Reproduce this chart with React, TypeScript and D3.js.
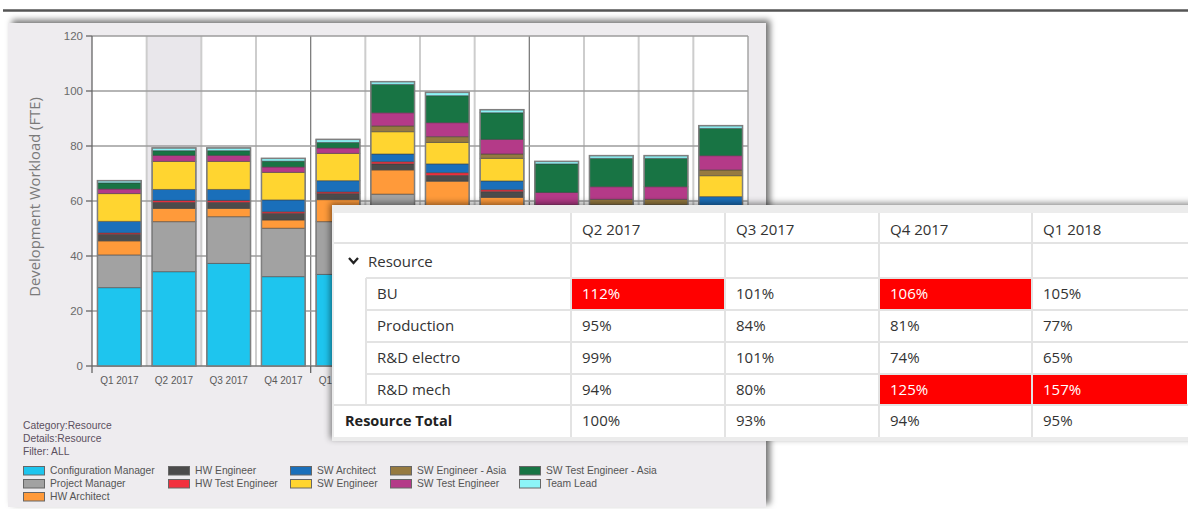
import React from "react";
import * as d3 from "d3";

const quarters = ["Q1 2017","Q2 2017","Q3 2017","Q4 2017","Q1 2018","Q2 2018","Q3 2018","Q4 2018","Q1 2019","Q2 2019","Q3 2019","Q4 2019"];

const roles = ["Configuration Manager","Project Manager","HW Architect","HW Engineer","HW Test Engineer","SW Architect","SW Engineer","SW Engineer - Asia","SW Test Engineer","SW Test Engineer - Asia","Team Lead"];

const roleColors = ["#1ec5ee","#a2a2a2","#ff9a3a","#4b4b4b","#f2303e","#1a6fba","#ffd530","#967a40","#b43a88","#187444","#8cf4f7"];

const configurationManager = [28.5, 34.3, 37.3, 32.5, 33.3, 38, 36, 34, 28, 28, 28, 30];
const projectManager = [11.9, 18.2, 17.0, 17.6, 19.2, 24.5, 22, 20, 18, 17, 17, 17];
const hwArchitect = [5.1, 4.8, 3.0, 3.0, 8.0, 8.8, 9.2, 7.3, 6, 6, 6, 6];
const hwEngineer = [2.4, 2.2, 2.2, 2.4, 2.2, 2.2, 2.1, 2.1, 1.5, 1.5, 1.5, 1.5];
const hwTestEngineer = [0.5, 0.7, 0.7, 0.6, 0.6, 0.8, 1.0, 0.7, 0.5, 0.5, 0.5, 0.5];
const swArchitect = [4.2, 4.0, 4.0, 4.3, 4.1, 2.8, 3.2, 3.2, 2, 2, 2, 6.6];
const swEngineer = [10.1, 10.2, 10.2, 10.0, 9.9, 8.1, 7.8, 8.2, 2.5, 3.6, 3.6, 7.6];
const swEngineerAsia = [0, 0, 0, 0, 0, 2.1, 2.1, 1.6, 0, 2, 2, 2.1];
const swTestEngineer = [1.7, 2.2, 2.2, 2.0, 2.0, 4.8, 5.1, 5.3, 4.6, 4.6, 4.6, 5.2];
const swTestEngineerAsia = [2.2, 1.7, 1.7, 2.1, 2.0, 10.3, 9.8, 9.7, 10.4, 10.3, 10.3, 9.9];
const teamLead = [0.8, 1.0, 1.0, 1.0, 1.1, 1.0, 1.2, 1.1, 0.9, 1.0, 1.0, 1.0];

const seriesValues = [configurationManager, projectManager, hwArchitect, hwEngineer, hwTestEngineer, swArchitect, swEngineer, swEngineerAsia, swTestEngineer, swTestEngineerAsia, teamLead];

const yTicks = [0, 20, 40, 60, 80, 100, 120];
const highlightedQuarter = "Q2 2017";
const yearStartQuarters = ["Q1 2018", "Q1 2019"];

const tableColumns = ["Q2 2017", "Q3 2017", "Q4 2017", "Q1 2018"];
const tableGroup = "Resource";
const tableRowLabels = ["BU", "Production", "R&D electro", "R&D mech"];
const tableBU = [112, 101, 106, 105];
const tableProduction = [95, 84, 81, 77];
const tableRDElectro = [99, 101, 74, 65];
const tableRDMech = [94, 80, 125, 157];
const tableTotal = [100, 93, 94, 95];
const tableRowValues = [tableBU, tableProduction, tableRDElectro, tableRDMech];
const redThreshold = 105;

const infoLines = ["Category:Resource", "Details:Resource", "Filter:  ALL"];

export default function App() {
  const W = 1188, H = 509;
  const plotL = 92, plotR = 748, plotT = 36, plotB = 366;
  const tableLeft = 332;

  const x = d3.scaleBand<string>().domain(quarters).range([plotL, plotR]).paddingInner(0.2).paddingOuter(0.1);
  const y = d3.scaleLinear().domain([0, 120]).range([plotB, plotT]);
  const color = d3.scaleOrdinal<string, string>().domain(roles).range(roleColors);

  const rows = quarters.map((q, i) => {
    const o: any = { quarter: q };
    roles.forEach((r, j) => (o[r] = seriesValues[j][i]));
    return o;
  });
  const stack = d3.stack<any>().keys(roles);
  const layers = stack(rows);

  const step = x.step();
  const bandStart = (q: string) => (x(q) as number) - x.paddingInner() * step / 2;
  const boundaries = quarters.map((q) => bandStart(q));

  // table geometry
  const tX = 334, tY = 213;
  const colX = [571, 725, 879, 1032, 1188];
  const rowY = [213, 243, 278, 310, 342, 374, 405, 437];
  const indentX = 366;
  const tf = "'Open Sans', 'Noto Sans', sans-serif";
  const af = "'Liberation Sans', Arial, sans-serif";

  const legendCols = [23, 168, 290, 390, 519];
  const legendRows = [470.5, 483.5, 496.5];

  // x labels that are not entirely hidden under the table overlay
  const visibleLabels = quarters.filter((q) => (x(q) as number) + x.bandwidth() / 2 - 19 < tableLeft);

  return (
    <svg width={W} height={H} style={{ position: "absolute", left: 0, top: 0 }} xmlns="http://www.w3.org/2000/svg">
      <defs>
        <filter id="pshadow" x="-5%" y="-5%" width="110%" height="110%">
          <feDropShadow dx="4" dy="-3" stdDeviation="3" floodColor="#000" floodOpacity="0.55" />
        </filter>
        <filter id="tshadow" x="-5%" y="-10%" width="110%" height="120%">
          <feDropShadow dx="-2" dy="-2" stdDeviation="3" floodColor="#000" floodOpacity="0.45" />
        </filter>
      </defs>
      <rect x={0} y={0} width={W} height={H} fill="#fff" />
      <line x1={3} x2={W} y1={10.5} y2={10.5} stroke="#555" strokeWidth={2.5} />

      {/* chart panel */}
      <rect x={8} y={23} width={758} height={484} fill="#eeecef" filter="url(#pshadow)" />

      {/* plot area */}
      <rect x={plotL} y={plotT} width={plotR - plotL} height={plotB - plotT} fill="#fff" />
      <rect x={bandStart(highlightedQuarter)} y={plotT} width={step} height={plotB - plotT} fill="#e9e7eb" />

      {boundaries.slice(1).map((bx, i) => {
        const dark = yearStartQuarters.includes(quarters[i + 1]);
        return (
          <line key={"vg" + i} x1={bx} x2={bx} y1={plotT} y2={plotB} stroke={dark ? "#7d7d7d" : "#cdcdcd"} strokeWidth={dark ? 1.3 : 2} />
        );
      })}
      <line x1={plotR} x2={plotR} y1={plotT} y2={plotB} stroke="#999" strokeWidth={1.3} />
      {yTicks.map((t) => (
        <line key={"hg" + t} x1={plotL} x2={plotR} y1={y(t)} y2={y(t)} stroke={t === 0 ? "#777" : "#9c9c9c"} strokeWidth={1.3} />
      ))}

      {/* bars */}
      {layers.map((layer, li) => (
        <g key={"l" + li}>
          {layer.map((d, qi) => {
            const h = y(d[0]) - y(d[1]);
            if (h <= 0) return null;
            return (
              <rect key={qi} x={x(quarters[qi]) as number} y={y(d[1])} width={x.bandwidth()} height={h}
                fill={color(roles[li])} stroke="rgba(60,60,60,0.5)" strokeWidth={1} />
            );
          })}
        </g>
      ))}
      {quarters.map((q, qi) => {
        const top = layers[layers.length - 1][qi][1];
        return (
          <rect key={"ob" + q} x={x(q) as number} y={y(top)} width={x.bandwidth()} height={y(0) - y(top)}
            fill="none" stroke="#7f7f7f" strokeWidth={1.5} />
        );
      })}

      {/* axes */}
      <line x1={plotL} x2={plotL} y1={plotT} y2={plotB + 7} stroke="#666" strokeWidth={1.3} />
      {yTicks.map((t) => (
        <g key={"yt" + t}>
          <line x1={plotL - 6} x2={plotL} y1={y(t)} y2={y(t)} stroke="#666" strokeWidth={1.3} />
          <text x={plotL - 9} y={y(t)} dy="0.35em" textAnchor="end" fontFamily={af} fontSize={11.5} fill="#6a6a6a">{t}</text>
        </g>
      ))}
      {quarters.map((q) => yearStartQuarters.includes(q) ? (
        <line key={"xt" + q} x1={bandStart(q)} x2={bandStart(q)} y1={plotB} y2={plotB + 7} stroke="#666" strokeWidth={1.3} />
      ) : null)}
      {visibleLabels.map((q) => (
        <text key={"xl" + q} x={(x(q) as number) + x.bandwidth() / 2} y={plotB + 14} dy="0.35em" textAnchor="middle" fontFamily={af} fontSize={10} fill="#5a5a5a">{q}</text>
      ))}
      <text transform={`translate(35,197) rotate(-90)`} textAnchor="middle" dy="0.35em" fontFamily={tf} fontSize={14.8} fill="#7a7a7a">Development Workload (FTE)</text>

      {/* info and legend */}
      {infoLines.map((s, i) => (
        <text key={"inf" + i} x={23} y={425 + i * 13.3} dy="0.35em" fontFamily={af} fontSize={10.3} fill="#5b4f5e">{s}</text>
      ))}
      {roles.map((r, i) => {
        const c = i < 3 ? 0 : 1 + Math.floor((i - 3) / 2);
        const rw = i < 3 ? i : (i - 3) % 2;
        const lx = legendCols[c], ly = legendRows[rw];
        return (
          <g key={"lg" + r}>
            <rect x={lx + 0.5} y={ly - 4} width={21} height={8.5} fill={color(r)} stroke="#666" strokeWidth={1} />
            <text x={lx + 27} y={ly} dy="0.35em" fontFamily={af} fontSize={10.3} fill="#555">{r}</text>
          </g>
        );
      })}

      {/* table overlay */}
      <rect x={tableLeft} y={205} width={W - tableLeft + 10} height={236} fill="#ececec" filter="url(#tshadow)" />
      <rect x={tX} y={tY} width={W - tX} height={rowY[7] - tY} fill="#fff" />
      {/* red cells */}
      {tableRowValues.map((vals, ri) => vals.map((v, ci) => v > redThreshold ? (
        <rect key={`rc${ri}-${ci}`} x={colX[ci] + 1} y={rowY[ri + 2] + 1} width={colX[ci + 1] - colX[ci] - 2} height={rowY[ri + 3] - rowY[ri + 2] - 2} fill="#ff0000" />
      ) : null))}
      {/* grid lines */}
      {[1, 6].map((ri) => (
        <line key={"th" + ri} x1={tX} x2={W} y1={rowY[ri]} y2={rowY[ri]} stroke="#e3e3e3" strokeWidth={2} />
      ))}
      {[2, 3, 4, 5].map((ri) => (
        <line key={"th" + ri} x1={indentX} x2={W} y1={rowY[ri]} y2={rowY[ri]} stroke="#e3e3e3" strokeWidth={2} />
      ))}
      <line x1={indentX} x2={indentX} y1={rowY[2]} y2={rowY[6]} stroke="#e3e3e3" strokeWidth={2} />
      {colX.slice(0, 4).map((cx, i) => (
        <line key={"tv" + i} x1={cx} x2={cx} y1={tY} y2={rowY[7]} stroke="#e3e3e3" strokeWidth={2} />
      ))}
      {/* header */}
      {tableColumns.map((c, i) => (
        <text key={"tc" + c} x={colX[i] + 11} y={(rowY[0] + rowY[1]) / 2 + 2} dy="0.35em" fontFamily={tf} fontSize={15} fill="#333">{c}</text>
      ))}
      <polyline points="349,258 353.5,263 358,258" fill="none" stroke="#222" strokeWidth={2.3} />
      <text x={368} y={(rowY[1] + rowY[2]) / 2 + 1} dy="0.35em" fontFamily={tf} fontSize={15} fill="#333">{tableGroup}</text>
      {tableRowLabels.map((lab, ri) => (
        <g key={"tr" + lab}>
          <text x={377} y={(rowY[ri + 2] + rowY[ri + 3]) / 2} dy="0.35em" fontFamily={tf} fontSize={15} fill="#333">{lab}</text>
          {tableRowValues[ri].map((v, ci) => (
            <text key={ci} x={colX[ci] + 11} y={(rowY[ri + 2] + rowY[ri + 3]) / 2} dy="0.35em" fontFamily={tf} fontSize={15} fill={v > redThreshold ? "#fff" : "#333"}>{v}%</text>
          ))}
        </g>
      ))}
      <text x={345} y={(rowY[6] + rowY[7]) / 2} dy="0.35em" fontFamily={tf} fontSize={14.5} fontWeight="bold" fill="#222">{tableGroup} Total</text>
      {tableTotal.map((v, ci) => (
        <text key={"tt" + ci} x={colX[ci] + 11} y={(rowY[6] + rowY[7]) / 2} dy="0.35em" fontFamily={tf} fontSize={15} fill="#333">{v}%</text>
      ))}
    </svg>
  );
}
